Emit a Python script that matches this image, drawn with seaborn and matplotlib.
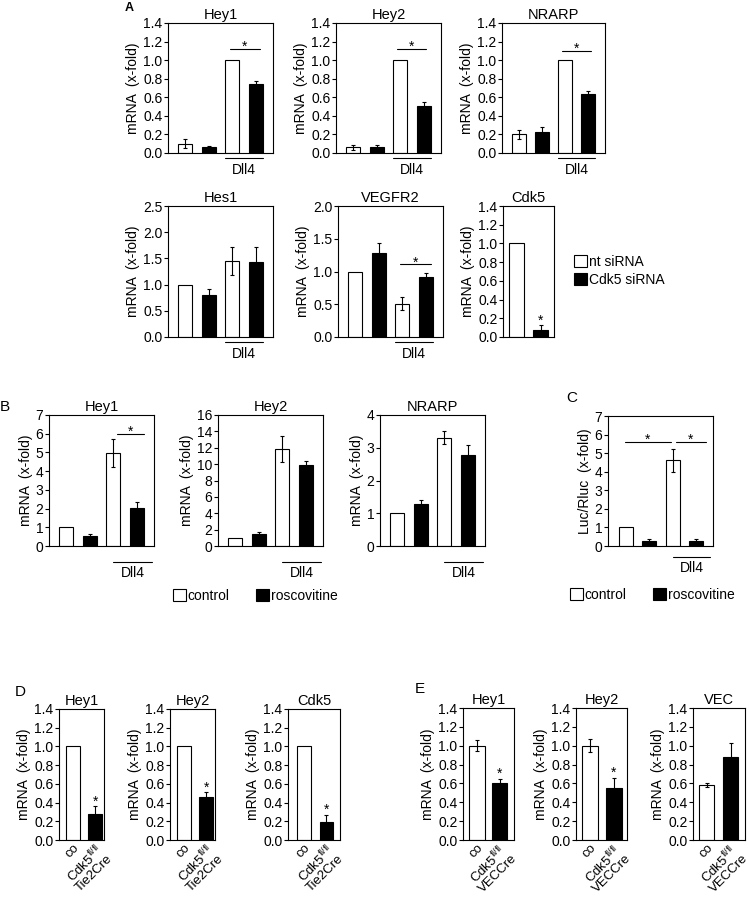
import numpy as np
import pandas as pd
import matplotlib
matplotlib.use('Agg')
import matplotlib.pyplot as plt
import seaborn as sns
from matplotlib.patches import Patch
from matplotlib.ticker import FormatStrFormatter, MultipleLocator

# ---- data ----
sirna = ['nt siRNA', 'Cdk5 siRNA']
drug = ['control', 'roscovitine']
mouse_tie2 = ['co', 'Cdk5$^{\\mathrm{fl/fl}}$\nTie2Cre']
mouse_vec = ['co', 'Cdk5$^{\\mathrm{fl/fl}}$\nVECCre']

# A: siRNA, (-, -, Dll4, Dll4)
a_hey1 = [0.10, 0.07, 1.00, 0.74]
a_hey1_err = [0.05, 0.01, 0.0, 0.04]
a_hey2 = [0.06, 0.06, 1.00, 0.51]
a_hey2_err = [0.03, 0.03, 0.0, 0.035]
a_nrarp = [0.20, 0.225, 1.00, 0.64]
a_nrarp_err = [0.05, 0.06, 0.0, 0.03]
a_hes1 = [1.00, 0.80, 1.45, 1.43]
a_hes1_err = [0.0, 0.12, 0.26, 0.29]
a_vegfr2 = [1.00, 1.29, 0.51, 0.91]
a_vegfr2_err = [0.0, 0.15, 0.10, 0.07]
a_cdk5 = [1.00, 0.08]
a_cdk5_err = [0.0, 0.045]

# B: roscovitine
b_hey1 = [1.00, 0.55, 4.96, 2.02]
b_hey1_err = [0.0, 0.07, 0.75, 0.35]
b_hey2 = [1.00, 1.50, 11.8, 9.95]
b_hey2_err = [0.0, 0.25, 1.6, 0.4]
b_nrarp = [1.00, 1.27, 3.31, 2.79]
b_nrarp_err = [0.0, 0.13, 0.20, 0.28]

# C: luciferase
c_luc = [1.00, 0.28, 4.63, 0.28]
c_luc_err = [0.0, 0.12, 0.62, 0.09]

# D: Tie2Cre
d_hey1 = [1.00, 0.28]
d_hey1_err = [0.0, 0.08]
d_hey2 = [1.00, 0.46]
d_hey2_err = [0.0, 0.05]
d_cdk5 = [1.00, 0.19]
d_cdk5_err = [0.0, 0.08]

# E: VECCre
e_hey1 = [1.00, 0.60]
e_hey1_err = [0.06, 0.05]
e_hey2 = [1.00, 0.55]
e_hey2_err = [0.07, 0.11]
e_vec = [0.58, 0.88]
e_vec_err = [0.02, 0.15]

# ---- style ----
sns.set_style('white')
plt.rcParams['font.family'] = ['Liberation Sans', 'DejaVu Sans']
plt.rcParams['mathtext.fontset'] = 'custom'
plt.rcParams['mathtext.rm'] = 'Liberation Sans'
for k in ['text.color', 'axes.labelcolor', 'xtick.color', 'ytick.color', 'axes.edgecolor']:
    plt.rcParams[k] = 'black'

W, H = 749, 899
fig = plt.figure(figsize=(W / 100, H / 100), dpi=100)

pal = {'white': 'white', 'black': 'black'}
four = ['white', 'black', 'white', 'black']
two = ['white', 'black']


def make_ax(l, r, t, b):
    return fig.add_axes([l / W, 1 - b / H, (r - l) / W, (b - t) / H])


def panel(box, vals, errs, title, ymax, step, fmt, xlim, width=0.6,
          ylabel='mRNA  (x-fold)'):
    ax = make_ax(*box)
    cols = four if len(vals) == 4 else two
    df = pd.DataFrame({'pos': [str(i) for i in range(len(vals))],
                       'val': vals, 'grp': cols})
    sns.barplot(data=df, x='pos', y='val', hue='grp', palette=pal, dodge=False,
                width=width, edgecolor='black', linewidth=0.8, errorbar=None,
                legend=False, ax=ax)
    e = np.array(errs)
    idx = np.where(e > 0)[0]
    ax.errorbar(idx, np.array(vals)[idx], yerr=e[idx], fmt='none', ecolor='black',
                elinewidth=0.8, capsize=1.5, capthick=0.8)
    ax.set_ylim(0, ymax)
    ax.set_xlim(*xlim)
    ax.yaxis.set_major_locator(MultipleLocator(step))
    ax.yaxis.set_major_formatter(FormatStrFormatter(fmt))
    ax.tick_params(axis='y', left=True, direction='out', length=3, width=0.8,
                   pad=1, labelsize=10)
    ax.tick_params(axis='x', bottom=False, length=0)
    ax.set_xticks([])
    ax.set_xlabel('')
    ax.set_ylabel(ylabel, fontsize=10, labelpad=2)
    ax.set_title(title, fontsize=10.5, pad=3)
    for s in ax.spines.values():
        s.set_linewidth(0.8)
        s.set_color('black')
    ax._hpx = box[3] - box[2]
    return ax


def dll4(ax, x0, x1, line_px, text_px):
    tr = ax.get_xaxis_transform()
    ax.plot([x0, x1], [-line_px / ax._hpx] * 2, color='black', lw=0.8,
            transform=tr, clip_on=False)
    ax.text((x0 + x1) / 2, -text_px / ax._hpx, 'Dll4', transform=tr,
            ha='center', va='center', fontsize=10)


def sig(ax, x0, x1, y):
    ax.plot([x0, x1], [y, y], color='black', lw=0.8)
    ax.annotate('*', xy=((x0 + x1) / 2, y), xytext=(0, -1.5),
                textcoords='offset points', ha='center', va='baseline', fontsize=10)


def star(ax, x, vals, errs):
    ax.annotate('*', xy=(x, vals[x] + errs[x]), xytext=(0, 0.5),
                textcoords='offset points', ha='center', va='baseline', fontsize=10)


def mouse_labels(ax, labels):
    ax.set_xticks([0, 1])
    ax.set_xticklabels(labels, rotation=45, ha='right', va='top',
                       rotation_mode='anchor', fontsize=9.5, multialignment='center',
                       linespacing=0.9)
    ax.tick_params(axis='x', length=0, pad=1)


x4 = (-0.72, 3.72)

# ---- A ----
ax = panel((168, 273, 23, 153), a_hey1, a_hey1_err, 'Hey1', 1.4, 0.2, '%.1f', x4)
dll4(ax, 1.7, 3.3, 5, 17); sig(ax, 1.9, 3.15, 1.12)
ax = panel((336, 441, 23, 153), a_hey2, a_hey2_err, 'Hey2', 1.4, 0.2, '%.1f', x4)
dll4(ax, 1.7, 3.3, 5, 17); sig(ax, 1.85, 3.1, 1.12)
ax = panel((502, 605, 23, 153), a_nrarp, a_nrarp_err, 'NRARP', 1.4, 0.2, '%.1f', x4)
dll4(ax, 1.7, 3.3, 5, 17); sig(ax, 1.85, 3.1, 1.10)
ax = panel((168, 273, 206, 337), a_hes1, a_hes1_err, 'Hes1', 2.5, 0.5, '%.1f', x4)
dll4(ax, 1.7, 3.3, 5, 17)
ax = panel((338, 443, 206, 337), a_vegfr2, a_vegfr2_err, 'VEGFR2', 2.0, 0.5, '%.1f', x4)
dll4(ax, 1.7, 3.3, 5, 17); sig(ax, 1.9, 3.2, 1.11)
ax = panel((503, 554, 206, 337), a_cdk5, a_cdk5_err, 'Cdk5', 1.4, 0.2, '%.1f',
           (-0.56, 1.56), width=0.62)
star(ax, 1, a_cdk5, a_cdk5_err)
fig.legend(handles=[Patch(facecolor='white', edgecolor='black', lw=0.8),
                    Patch(facecolor='black', edgecolor='black', lw=0.8)],
           labels=sirna, loc='upper left', bbox_to_anchor=(574 / W, 1 - 255 / H),
           frameon=False, fontsize=10, handlelength=0.95, handleheight=0.95,
           handletextpad=0.1, labelspacing=0.3, borderpad=0, borderaxespad=0)
fig.text(129 / W, 1 - 8 / H, 'A', fontsize=9, fontweight='bold', ha='center', va='center')

# ---- B ----
ax = panel((49, 154, 415, 546), b_hey1, b_hey1_err, 'Hey1', 7, 1, '%d', x4)
dll4(ax, 2.0, 3.62, 16, 27); sig(ax, 2.15, 3.3, 6.0)
ax = panel((218, 323, 415, 546), b_hey2, b_hey2_err, 'Hey2', 16, 2, '%d', x4)
dll4(ax, 2.0, 3.62, 16, 27)
ax = panel((380, 485, 415, 546), b_nrarp, b_nrarp_err, 'NRARP', 4, 1, '%d', x4)
dll4(ax, 2.0, 3.62, 16, 27)
leg_handles = [Patch(facecolor='white', edgecolor='black', lw=0.8),
               Patch(facecolor='black', edgecolor='black', lw=0.8)]
fig.legend(handles=leg_handles, labels=drug, loc='upper left', ncol=2,
           bbox_to_anchor=(173 / W, 1 - 589 / H), frameon=False, fontsize=10,
           handlelength=0.95, handleheight=0.95, handletextpad=0.1,
           columnspacing=1.9, borderpad=0, borderaxespad=0)
fig.text(5 / W, 1 - 407 / H, 'B', fontsize=11, ha='center', va='center')

# ---- C ----
ax = panel((608, 713, 416, 546), c_luc, c_luc_err, '', 7, 1, '%d', (-0.77, 3.73),
           ylabel='Luc/Rluc  (x-fold)')
dll4(ax, 2.0, 3.62, 11, 22)
sig(ax, -0.05, 1.93, 5.6); sig(ax, 2.13, 3.43, 5.6)
fig.legend(handles=leg_handles, labels=drug, loc='upper left', ncol=2,
           bbox_to_anchor=(570 / W, 1 - 588 / H), frameon=False, fontsize=10,
           handlelength=0.95, handleheight=0.95, handletextpad=0.1,
           columnspacing=1.9, borderpad=0, borderaxespad=0)
fig.text(572 / W, 1 - 398 / H, 'C', fontsize=11, ha='center', va='center')

# ---- D ----
ax = panel((59, 104, 709, 840), d_hey1, d_hey1_err, 'Hey1', 1.4, 0.2, '%.1f',
           (-0.62, 1.38), width=0.62)
mouse_labels(ax, mouse_tie2); star(ax, 1, d_hey1, d_hey1_err)
ax = panel((170, 215, 709, 840), d_hey2, d_hey2_err, 'Hey2', 1.4, 0.2, '%.1f',
           (-0.62, 1.38), width=0.62)
mouse_labels(ax, mouse_tie2); star(ax, 1, d_hey2, d_hey2_err)
ax = panel((288, 340, 709, 840), d_cdk5, d_cdk5_err, 'Cdk5', 1.4, 0.2, '%.1f',
           (-0.71, 1.6), width=0.62)
mouse_labels(ax, mouse_tie2); star(ax, 1, d_cdk5, d_cdk5_err)
fig.text(20 / W, 1 - 692 / H, 'D', fontsize=11, ha='center', va='center')

# ---- E ----
ax = panel((463, 514, 708, 840), e_hey1, e_hey1_err, 'Hey1', 1.4, 0.2, '%.1f',
           (-0.62, 1.64), width=0.68)
mouse_labels(ax, mouse_vec); star(ax, 1, e_hey1, e_hey1_err)
ax = panel((576, 627, 708, 840), e_hey2, e_hey2_err, 'Hey2', 1.4, 0.2, '%.1f',
           (-0.6, 1.55), width=0.68)
mouse_labels(ax, mouse_vec); star(ax, 1, e_hey2, e_hey2_err)
ax = panel((693, 745, 708, 840), e_vec, e_vec_err, 'VEC', 1.4, 0.2, '%.1f',
           (-0.57, 1.6), width=0.65)
mouse_labels(ax, mouse_vec)
fig.text(420 / W, 1 - 689 / H, 'E', fontsize=11, ha='center', va='center')

fig.savefig('out.png', dpi=100)
